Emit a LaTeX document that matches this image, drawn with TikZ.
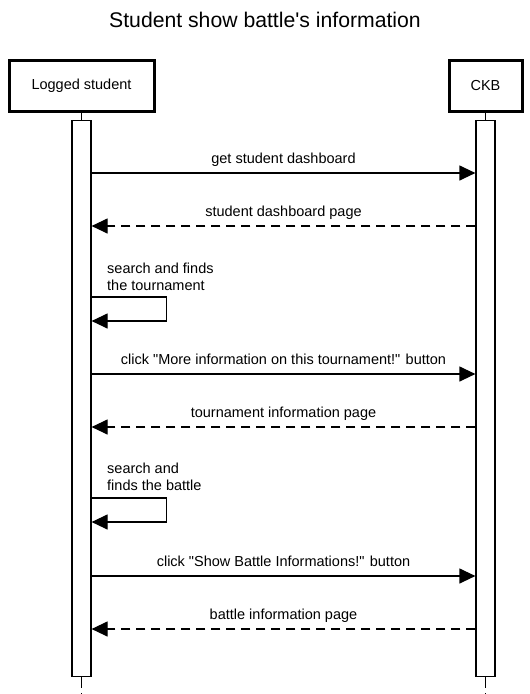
\documentclass[tikz,border=0pt]{standalone}
\usepackage{fontspec}
\setmainfont{Liberation Sans}
\usetikzlibrary{arrows.meta, positioning, calc}

\tikzset{
  actor/.style={draw, line width=3pt, minimum height=51pt, inner sep=0pt,
    font=\fontsize{14.5}{17}\selectfont},
  actbar/.style={draw, line width=1.2pt, fill=white, minimum width=19pt,
    minimum height=556pt, inner sep=0pt, anchor=north},
  life/.style={line width=1.2pt},
  msg/.style={line width=1.2pt, -{Triangle[length=16pt, width=15pt]}},
  reply/.style={msg, dash pattern=on 9pt off 6pt},
  lbl/.style={font=\fontsize{14.5}{17}\selectfont, inner sep=0pt, text depth=3pt, above=6pt},
  note/.style={font=\fontsize{14.5}{17}\selectfont, inner sep=0pt, align=left, anchor=north west},
}

\begin{document}
\begin{tikzpicture}[x=1pt, y=-1pt]
    \useasboundingbox (0,0) rectangle (530,694);
    \node[font=\fontsize{21.2}{25}\selectfont] (title) at (265,20) {Student show battle\textquotesingle s information};

    % participants
    \node[actor, minimum width=145pt] (student) at (81.5,85.5) {Logged student};
    \node[actor, minimum width=73pt] (ckb) at (485.5,85.5) {CKB};
    \coordinate (send) at (81.5,700);
    \coordinate (cend) at (485.5,700);
    \draw[life] (student.south) -- (81.5,120);
    \draw[life] (ckb.south) -- (485.5,120);
    \node[actbar] (sbar) at (81.5,120) {};
    \node[actbar] (cbar) at (485.5,120) {};
    \draw[life, dash pattern=on 11pt off 5pt] (sbar.south) -- (send);
    \draw[life, dash pattern=on 11pt off 5pt] (cbar.south) -- (cend);

    % messages
    \draw[msg] (sbar.east |- 0,173) -- node[lbl] {get student dashboard} (cbar.west |- 0,173);
    \draw[reply] (cbar.west |- 0,226) -- node[lbl] {student dashboard page} (sbar.east |- 0,226);

    \node[note] (find1) at (107,263) {search and finds\\the tournament};
    \draw[msg] (sbar.east |- 0,297) -- ++(75,0) -- ++(0,24) -- (sbar.east |- 0,321);

    \draw[msg] (sbar.east |- 0,374) -- node[lbl] {click \textquotedbl More information on this tournament!\textquotedbl{} button} (cbar.west |- 0,374);
    \draw[reply] (cbar.west |- 0,427) -- node[lbl] {tournament information page} (sbar.east |- 0,427);

    \node[note] (find2) at (107,463) {search and\\finds the battle};
    \draw[msg] (sbar.east |- 0,498) -- ++(75,0) -- ++(0,24) -- (sbar.east |- 0,522);

    \draw[msg] (sbar.east |- 0,576) -- node[lbl] {click \textquotedbl Show Battle Informations!\textquotedbl{} button} (cbar.west |- 0,576);
    \draw[reply] (cbar.west |- 0,629) -- node[lbl] {battle information page} (sbar.east |- 0,629);
\end{tikzpicture}
\end{document}
